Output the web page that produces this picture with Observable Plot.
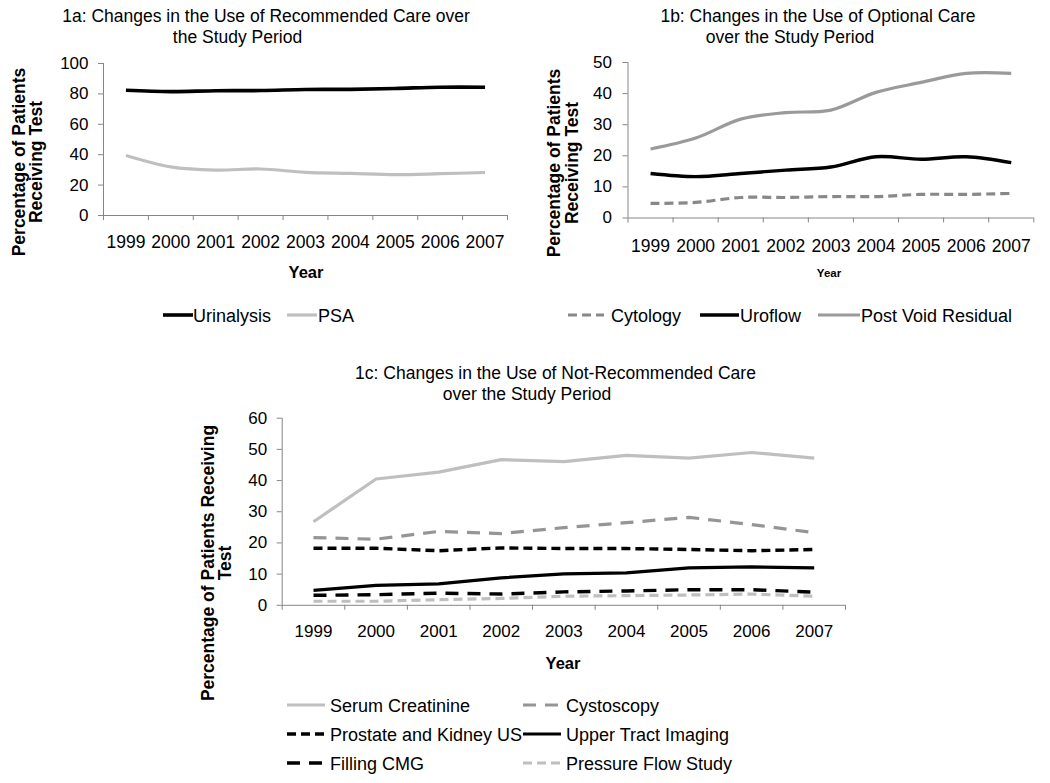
<!DOCTYPE html>
<html>
<head>
<meta charset="utf-8">
<script src="https://cdn.jsdelivr.net/npm/d3@7"></script>
<script src="https://cdn.jsdelivr.net/npm/@observablehq/plot@0.6"></script>
<style>
  body { margin: 0; background: #fff; }
  #page { position: relative; width: 1050px; height: 783px; overflow: hidden;
          font-family: "Liberation Sans", Arial, Helvetica, sans-serif; color: #000; background: #fff; }
  .abs { position: absolute; white-space: nowrap; line-height: 1; }
  .ttl { font-size: 17.5px; transform: translate(-50%, -50%); }
  .ytl { font-size: 17.5px; font-weight: bold; text-align: center; transform: translate(-50%, -50%) rotate(-90deg); }
  .xtl { font-weight: bold; transform: translate(-50%, -50%); }
  .leg { font-size: 18px; transform: translateY(-50%); }
  .sample { position: absolute; transform: translateY(-50%); }
  svg.plot { position: absolute; overflow: visible; }
</style>
</head>
<body>
<div id="page"></div>
<script>
// ---------- data ----------
const years = [1999, 2000, 2001, 2002, 2003, 2004, 2005, 2006, 2007];

// 1a: recommended care
const urinalysis = [82.4, 81.5, 82.1, 82.2, 82.9, 83.0, 83.6, 84.4, 84.4];
const psa        = [39.5, 32.0, 29.9, 30.6, 28.4, 27.7, 26.9, 27.5, 28.3];

// 1b: optional care
const cytology         = [4.7, 5.0, 6.6, 6.6, 6.9, 6.9, 7.6, 7.6, 7.9];
const uroflow          = [14.3, 13.3, 14.3, 15.4, 16.4, 19.7, 18.9, 19.7, 17.8];
const postVoidResidual = [22.2, 25.7, 31.8, 33.9, 34.7, 40.4, 43.6, 46.5, 46.5];

// 1c: not-recommended care
const serumCreatinine   = [26.8, 40.5, 42.7, 46.7, 46.1, 48.1, 47.2, 49.0, 47.2];
const cystoscopy        = [21.7, 21.2, 23.7, 23.0, 24.9, 26.5, 28.2, 25.9, 23.3];
const prostateKidneyUS  = [18.3, 18.3, 17.5, 18.4, 18.2, 18.2, 17.9, 17.5, 17.9];
const upperTractImaging = [4.8, 6.4, 6.9, 8.8, 10.1, 10.4, 12.0, 12.3, 12.0];
const fillingCMG        = [3.2, 3.4, 3.9, 3.6, 4.3, 4.6, 5.0, 5.0, 4.2];
const pressureFlowStudy = [1.3, 1.3, 1.8, 2.2, 2.9, 3.1, 3.3, 3.6, 2.9];

const titleA = ["1a: Changes in the Use of Recommended Care over", "the Study Period"];
const titleB = ["1b: Changes in the Use of Optional Care", "over the Study Period"];
const titleC = ["1c: Changes in the Use of Not-Recommended Care", "over the Study Period"];
const yTitleAB = ["Percentage of Patients", "Receiving Test"];
const yTitleC = ["Percentage of Patients Receiving", "Test"];
const xTitle = "Year";

const namesA = ["Urinalysis", "PSA"];
const namesB = ["Cytology", "Uroflow", "Post Void Residual"];
const namesC = ["Serum Creatinine", "Cystoscopy", "Prostate and Kidney US", "Upper Tract Imaging", "Filling CMG", "Pressure Flow Study"];

// ---------- styles ----------
const AXIS = "#868686";
const FONT = '"Liberation Sans", Arial, Helvetica, sans-serif';
const page = document.getElementById("page");

function series(name, values, color, dash, sw) {
  return {name, values, color, dash, sw};
}

function chart(cfg) {
  const boundaries = d3.range(years[0] - 0.5, years[years.length - 1] + 1, 1);
  const marks = [
    Plot.ruleY([0], {stroke: AXIS, strokeWidth: 1}),
    Plot.ruleX([boundaries[0]], {y1: 0, y2: cfg.yMax, stroke: AXIS, strokeWidth: 1}),
    Plot.axisY(d3.range(0, cfg.yMax + 0.001, cfg.yStep), {
      tickSize: 5, tickPadding: cfg.yPad, fontSize: cfg.yFont, stroke: AXIS, fill: "#000",
      label: null, tickFormat: d => String(d)
    }),
    Plot.axisX(boundaries, {tickSize: 5, stroke: AXIS, label: null, tickFormat: () => ""}),
    Plot.axisX(years, {tickSize: 0, tickPadding: cfg.xPad, fontSize: cfg.xFont, fill: "#000",
      label: null, tickFormat: d => String(d)})
  ];
  for (const s of cfg.series) {
    marks.push(Plot.line(years.map((yr, i) => ({year: yr, value: s.values[i]})), {
      x: "year", y: "value", stroke: s.color, strokeWidth: s.sw,
      strokeDasharray: s.dash || null, curve: cfg.curve, strokeLinecap: "butt"
    }));
  }
  const svg = Plot.plot({
    width: cfg.width, height: cfg.height,
    marginLeft: cfg.ml, marginRight: cfg.mr, marginTop: cfg.mt, marginBottom: cfg.mb,
    x: {domain: [boundaries[0], boundaries[boundaries.length - 1]]},
    y: {domain: [0, cfg.yMax]},
    style: {fontFamily: FONT, background: "transparent", overflow: "visible", color: "#000"},
    marks
  });
  svg.classList.add("plot");
  svg.style.left = cfg.left + "px";
  svg.style.top = cfg.top + "px";
  page.appendChild(svg);
}

function text(cls, str, x, y, extra) {
  const d = document.createElement("div");
  d.className = "abs " + cls;
  d.innerHTML = str;
  d.style.left = x + "px";
  d.style.top = y + "px";
  if (extra) Object.assign(d.style, extra);
  page.appendChild(d);
  return d;
}

function legendItem(s, sx, sw, tx, y) {
  const ns = "http://www.w3.org/2000/svg";
  const svg = document.createElementNS(ns, "svg");
  svg.setAttribute("width", sw);
  svg.setAttribute("height", 8);
  svg.setAttribute("class", "sample");
  svg.style.left = sx + "px";
  svg.style.top = y + "px";
  const ln = document.createElementNS(ns, "line");
  ln.setAttribute("x1", 0); ln.setAttribute("x2", sw);
  ln.setAttribute("y1", 4); ln.setAttribute("y2", 4);
  ln.setAttribute("stroke", s.color);
  ln.setAttribute("stroke-width", s.sw);
  if (s.dash) ln.setAttribute("stroke-dasharray", s.dash);
  svg.appendChild(ln);
  page.appendChild(svg);
  text("leg", s.name, tx, y + 0.5);
}

// ---------- 1a ----------
const sA = [
  series(namesA[0], urinalysis, "#000000", null, 3.6),
  series(namesA[1], psa, "#bfbfbf", null, 3.2)
];
chart({left: 0, top: 0, width: 520, height: 260, ml: 103, mr: 13, mt: 63, mb: 45,
  yMax: 100, yStep: 20, yPad: 10, yFont: 17, xPad: 20, xFont: 17.5, series: sA, curve: "catmull-rom"});
text("ttl", titleA[0], 266, 17);
text("ttl", titleA[1], 237.5, 38);
text("ytl", yTitleAB.join("<br>"), 27.5, 162, {lineHeight: "17px"});
text("xtl", xTitle, 306, 272, {fontSize: "16.5px"});
legendItem(sA[0], 163, 30, 193, 315);
legendItem(sA[1], 287, 30, 318, 315);

// ---------- 1b ----------
const sB = [
  series(namesB[0], cytology, "#888888", "9,5", 3.2),
  series(namesB[1], uroflow, "#000000", null, 3.4),
  series(namesB[2], postVoidResidual, "#9a9a9a", null, 3.2)
];
chart({left: 520, top: 0, width: 530, height: 260, ml: 107.5, mr: 16.7, mt: 62, mb: 42.5,
  yMax: 50, yStep: 10, yPad: 11, yFont: 17, xPad: 22, xFont: 17.5, series: sB, curve: "catmull-rom"});
text("ttl", titleB[0], 818, 17);
text("ttl", titleB[1], 790, 38);
text("ytl", yTitleAB.join("<br>"), 562.5, 163, {lineHeight: "18px"});
text("xtl", xTitle, 829, 274, {fontSize: "11.5px"});
legendItem(sB[0], 568, 36, 611, 315);
legendItem(sB[1], 700, 39, 740, 315);
legendItem(sB[2], 818, 42, 861, 315);

// ---------- 1c ----------
const sC = [
  series(namesC[0], serumCreatinine, "#bfbfbf", null, 3.2),
  series(namesC[1], cystoscopy, "#959595", "13,9", 3.2),
  series(namesC[2], prostateKidneyUS, "#000000", "9,5", 3.4),
  series(namesC[3], upperTractImaging, "#000000", null, 3.2),
  series(namesC[4], fillingCMG, "#000000", "13,9", 3.4),
  series(namesC[5], pressureFlowStudy, "#bfbfbf", "9,5", 3.2)
];
chart({left: 190, top: 400, width: 680, height: 240, ml: 91.7, mr: 25, mt: 17.7, mb: 35.2,
  yMax: 60, yStep: 10, yPad: 10, yFont: 17, xPad: 20, xFont: 17, series: sC, curve: "linear"});
text("ttl", titleC[0], 555.5, 374);
text("ttl", titleC[1], 527, 395);
text("ytl", yTitleC.join("<br>"), 216.5, 563, {lineHeight: "17px"});
text("xtl", xTitle, 563, 663, {fontSize: "16.5px"});
const rowsY = [705, 734, 763];
sC.forEach((s, i) => {
  const col = i % 2, row = Math.floor(i / 2);
  if (col === 0) legendItem(s, 287, 38, 330, rowsY[row]);
  else legendItem(s, 523, 38, 566, rowsY[row]);
});
</script>
</body>
</html>
